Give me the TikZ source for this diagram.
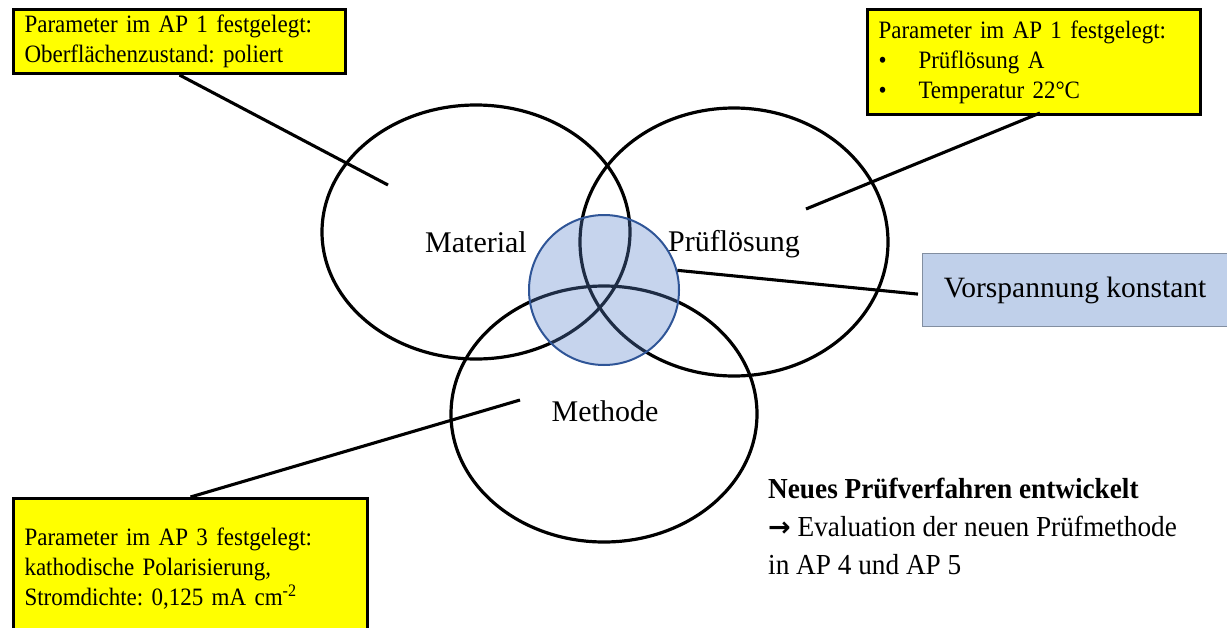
\documentclass[tikz,border=0pt]{standalone}
\usepackage{fontspec}
\setmainfont{Liberation Serif}
\newfontfamily\boxfont{Liberation Serif}[FakeStretch=0.92, WordSpace=0.75]
\newfontfamily\notefont{Liberation Serif}[FakeStretch=0.94]
\newfontfamily\symfont{DejaVu Sans}
\usetikzlibrary{calc}
\definecolor{ybox}{RGB}{255,255,0}
\definecolor{circfill}{RGB}{89,130,202}
\definecolor{circline}{RGB}{47,85,151}
\definecolor{vfill}{RGB}{192,208,234}
\definecolor{vline}{RGB}{130,142,160}
\tikzset{
  venn/.style={draw=black, line width=3.2pt},
  conn/.style={draw=black, line width=3.1pt},
  parbox/.style={draw=black, line width=3pt, fill=ybox, anchor=north west, align=left,
     inner xsep=11pt, inner ysep=0pt, font=\boxfont\fontsize{25}{30}\selectfont\frenchspacing},
  biglabel/.style={font=\fontsize{30}{36}\selectfont},
}
\begin{document}
\begin{tikzpicture}[x=1pt,y=-1pt]
\useasboundingbox (0,0) rectangle (1227,627);
% ellipses
\draw[venn] (476,232) ellipse [x radius=154, y radius=127];
\draw[venn] (734,242) ellipse [x radius=154, y radius=134];
\draw[venn] (604,414) ellipse [x radius=153, y radius=128];
\node[circle, minimum size=150, inner sep=0pt, draw=circline, line width=2pt, fill=circfill, fill opacity=0.34] (bc) at (604,290) {};
% labels
\node[biglabel] (mat) at (476,242) {Material};
\node[biglabel] (pl) at (734,244) {Prüflösung};
\node[biglabel] (met) at (605,411) {Methode};
\coordinate (pmat) at (388,185);
\coordinate (ppl) at (806,209);
\coordinate (pmet) at (520,400);
\coordinate (trs) at (1040,113);
% boxes
\node[parbox, minimum width=332, minimum height=64, text width=310] (tl) at (12,8)
  {Parameter im AP 1 festgelegt:\\Oberflächenzustand: poliert};
\node[parbox, minimum width=333, minimum height=105, text width=311] (tr) at (866,8)
  {Parameter im AP 1 festgelegt:\\\makebox[40pt][l]{\textbullet}Prüflösung A\\\makebox[40pt][l]{\textbullet}Temperatur 22°C};
\node[parbox, minimum width=354, minimum height=140, text width=332] (bl) at (12,497)
  {Parameter im AP 3 festgelegt:\\kathodische Polarisierung,\\Stromdichte: 0,125 mA cm\textsuperscript{-2}};
\node[draw=vline, line width=1.2pt, fill=vfill, anchor=north west, minimum width=305, minimum height=73,
  font=\fontsize{29.5}{34}\selectfont, inner sep=0pt] (vb) at (922,253) {\raisebox{6pt}{Vorspannung konstant}};
% connectors
\draw[conn] (tl.south) -- (pmat);
\draw[conn] (trs) -- (ppl);
\draw[conn] (bl.north) -- (pmet);
\draw[conn] (bc.15) -- ($(vb.west)+(-4,4)$);
% bottom right text
\node[anchor=north west, align=left, font=\notefont\fontsize{29}{38}\selectfont, inner sep=0pt] (nv) at (768,478)
  {\textbf{Neues Prüfverfahren entwickelt}\\{\symfont\bfseries\fontsize{27}{38}\selectfont →}\ Evaluation der neuen Prüfmethode\\in AP 4 und AP 5};
\end{tikzpicture}
\end{document}
